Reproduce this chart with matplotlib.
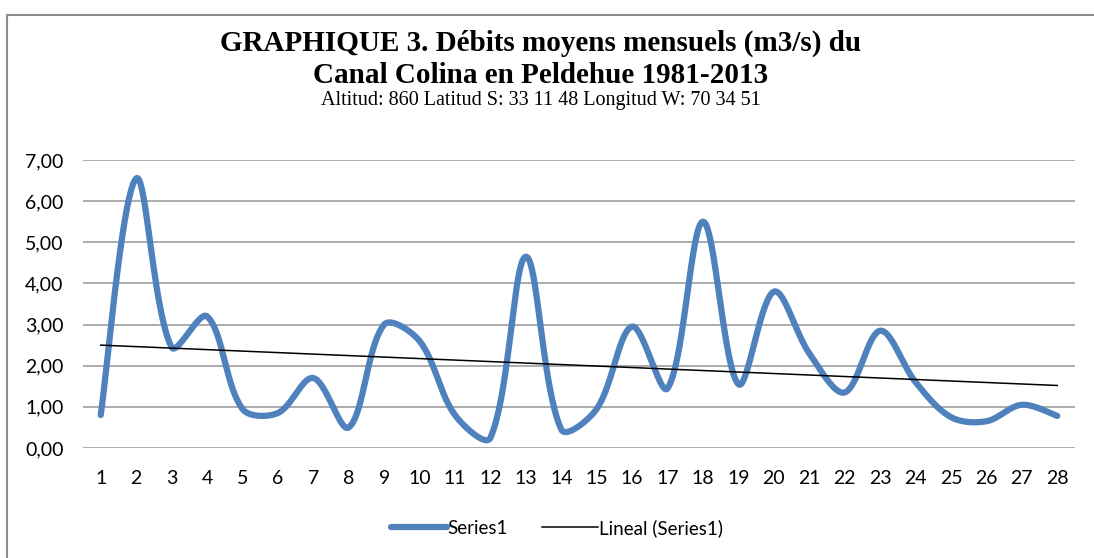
import numpy as np
import matplotlib
matplotlib.use("Agg")
import matplotlib.pyplot as plt
from matplotlib.patches import Rectangle
from matplotlib.lines import Line2D

months = list(range(1, 29))
debits = [0.80, 6.55, 2.45, 3.20, 0.95, 0.85, 1.70, 0.50, 3.00, 2.60,
          0.80, 0.25, 4.65, 0.45, 0.95, 2.95, 1.45, 5.50, 1.55, 3.80,
          2.30, 1.35, 2.85, 1.60, 0.75, 0.65, 1.05, 0.78]
yticks = [0, 1, 2, 3, 4, 5, 6, 7]

title = "GRAPHIQUE 3. Débits moyens mensuels (m3/s) du\nCanal Colina en Peldehue 1981-2013"
subtitle = "Altitud: 860 Latitud S: 33 11 48 Longitud W: 70 34 51"

BLUE = "#4F81BD"
LABEL_FONT = "Lato"

# screen scale of one x unit and one y unit (px), used for smoothing
SX, SY = 35.43, 41.1


def smooth(x, y, n=40):
    # bezier smoothing like a spreadsheet "smoothed line",
    # tangents scaled by neighbouring segment lengths on screen
    p = np.column_stack([np.asarray(x, float) * SX, np.asarray(y, float) * SY])
    m = len(p)
    seg = np.linalg.norm(np.diff(p, axis=0), axis=1)
    tan = np.zeros_like(p)
    for i in range(m):
        tan[i] = p[min(i + 1, m - 1)] - p[max(i - 1, 0)]
    out = []
    for i in range(m - 1):
        d0 = seg[i - 1] if i > 0 else seg[i]
        d1 = seg[i]
        d2 = seg[i + 1] if i + 1 < m - 1 else seg[i]
        f1 = d1 / (d0 + d1) / 3 if i > 0 else 1 / 6
        f2 = d1 / (d1 + d2) / 3 if i + 1 < m - 1 else 1 / 6
        c1 = p[i] + tan[i] * f1
        c2 = p[i + 1] - tan[i + 1] * f2
        t = np.linspace(0, 1, n, endpoint=(i == m - 2))[:, None]
        out.append((1 - t) ** 3 * p[i] + 3 * (1 - t) ** 2 * t * c1
                   + 3 * (1 - t) * t ** 2 * c2 + t ** 3 * p[i + 1])
    q = np.vstack(out)
    return q[:, 0] / SX, q[:, 1] / SY


fig = plt.figure(figsize=(10.94, 5.58), dpi=100)
ax = fig.add_axes([83 / 1094, 1 - 448 / 558, 992 / 1094, 288 / 558])

for v in yticks:
    ax.axhline(v, color="#A6A6A6", lw=1.3, zorder=1)

sx, sy = smooth(months, debits)
ax.plot(sx, sy, color=BLUE, lw=4.5, solid_capstyle="round", zorder=3)

coef = np.polyfit(months, debits, 1)
ax.plot([months[0], months[-1]], np.polyval(coef, [months[0], months[-1]]),
        color="black", lw=1.1, zorder=4)

ax.set_xlim(0.5, 28.5)
ax.set_ylim(0, 7)
ax.set_xticks(months)
ax.set_xticklabels([str(m) for m in months], fontsize=14, family=LABEL_FONT)
ax.set_yticks(yticks)
ax.set_yticklabels([f"{v:.2f}".replace(".", ",") for v in yticks],
                   fontsize=14, family=LABEL_FONT)
ax.tick_params(length=0)
ax.tick_params(axis="y", pad=14)
ax.tick_params(axis="x", pad=16)
for s in ax.spines.values():
    s.set_visible(False)

fig.text(0.4945, 1 - 59 / 558, title, ha="center", va="center",
         family="Liberation Serif", fontweight="bold", fontsize=21, linespacing=1.25)
fig.text(0.4945, 1 - 101 / 558, subtitle, ha="center", va="center",
         family="Liberation Serif", fontsize=14.5)

handles = [Line2D([], [], color=BLUE, lw=4.5, solid_capstyle="round"),
           Line2D([], [], color="black", lw=1.1)]
fig.legend(handles, ["Series1", "Lineal (Series1)"], loc="center",
           bbox_to_anchor=(0.509, 1 - 528 / 558), ncol=2, frameon=False,
           prop={"family": LABEL_FONT, "size": 13.5}, handlelength=3.0,
           handletextpad=0.05, columnspacing=1.8)

fig.patches.append(Rectangle((7 / 1094, -0.01), 1.1, 1 - 15 / 558 + 0.01,
                             transform=fig.transFigure, fill=False,
                             edgecolor="#8C8C8C", lw=1.5))

fig.savefig("out.png", dpi=100)
